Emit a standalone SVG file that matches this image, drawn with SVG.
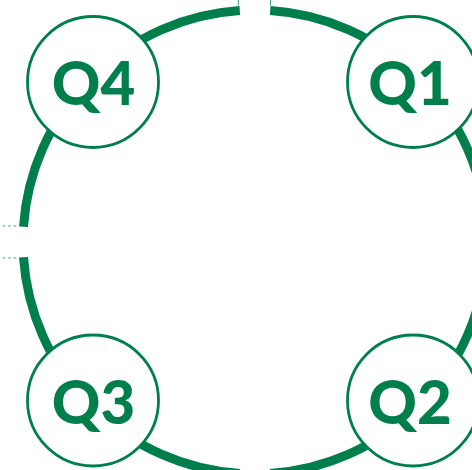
<svg xmlns="http://www.w3.org/2000/svg" width="472" height="470" viewBox="0 0 472 470">
  <style>
    .ring { fill: none; stroke: #007F4D; stroke-width: 9; stroke-linecap: butt; }
    .tick { stroke: #3E9E70; stroke-width: 1; fill: none; }
    .dash { stroke-dasharray: 2.6 3; }
    .node circle { fill: #ffffff; stroke: #007F4D; stroke-width: 2.8; }
    .node text { font-family: Lato, "Liberation Sans", sans-serif; font-weight: 900; font-size: 60px; fill: #007F4D; text-anchor: middle; }
  </style>
  <rect width="472" height="470" fill="#ffffff"/>
  <g id="connectors">
    <path class="ring" d="M23.5,226.8 A232,232 0 0 1 239.8,10.5"/>
    <path class="ring" d="M270.2,10.5 A232,232 0 0 1 486.5,226.8"/>
    <path class="ring" d="M486.5,257.2 A232,232 0 0 1 270.2,473.5"/>
    <path class="ring" d="M239.8,473.5 A232,232 0 0 1 23.5,257.2"/>
    <line class="tick" x1="238.3" y1="0" x2="238.3" y2="5.5"/>
    <line class="tick" x1="270.5" y1="0" x2="270.5" y2="5.5"/>
    <line class="tick dash" x1="2.5" y1="226" x2="18" y2="226"/>
    <line class="tick dash" x1="2.5" y1="258" x2="18" y2="258"/>
  </g>
  <g id="q4" class="node">
    <circle cx="93" cy="82" r="65.5"/>
    <text x="93.5" y="105">Q4</text>
  </g>
  <g id="q1" class="node">
    <circle cx="413" cy="82" r="65.5"/>
    <text x="410" y="105">Q1</text>
  </g>
  <g id="q3" class="node">
    <circle cx="93" cy="400.5" r="65.5"/>
    <text x="93.5" y="424">Q3</text>
  </g>
  <g id="q2" class="node">
    <circle cx="413" cy="400.5" r="65.5"/>
    <text x="410" y="424">Q2</text>
  </g>
</svg>
